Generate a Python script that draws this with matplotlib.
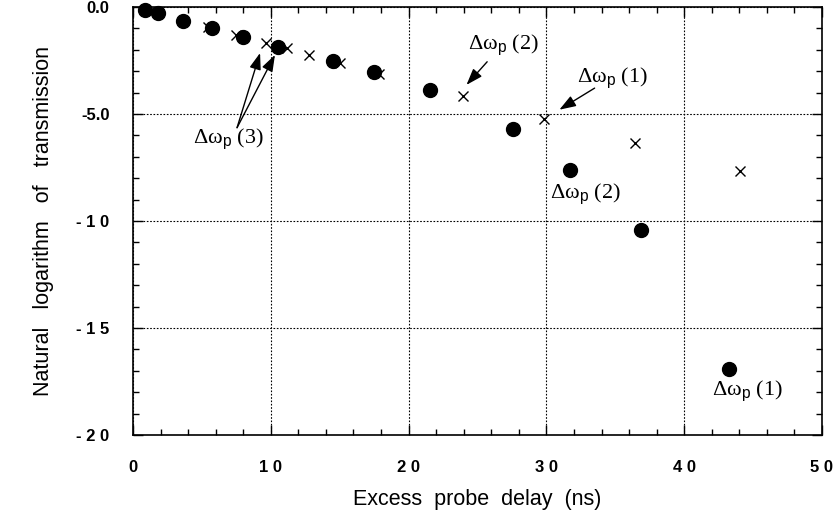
import matplotlib
matplotlib.use("Agg")
import matplotlib.pyplot as plt
from matplotlib.ticker import MultipleLocator, FixedLocator, FixedFormatter

plt.rcParams['font.family'] = ['Liberation Sans', 'DejaVu Sans']
plt.rcParams['mathtext.fontset'] = 'custom'
plt.rcParams['mathtext.rm'] = 'Liberation Serif'
plt.rcParams['mathtext.it'] = 'Liberation Serif:italic'
plt.rcParams['mathtext.sf'] = 'Liberation Sans'

# filled circles
circ_x = [0.87, 1.79, 3.61, 5.70, 7.96, 10.54, 14.49, 17.49, 21.55, 27.6, 31.71, 36.84, 43.27]
circ_y = [-0.14, -0.29, -0.64, -0.99, -1.41, -1.85, -2.52, -3.02, -3.87, -5.69, -7.60, -10.40, -16.90]

# crosses
cross_x = [5.46, 7.47, 9.63, 11.15, 12.79, 15.02, 17.87, 23.97, 29.83, 36.43, 44.05]
cross_y = [-0.92, -1.31, -1.66, -1.93, -2.24, -2.63, -3.12, -4.18, -5.22, -6.36, -7.68]

xticks = [0, 10, 20, 30, 40, 50]
xtick_labels = ["0", "1 0", "2 0", "3 0", "4 0", "5 0"]
yticks = [0, -5, -10, -15, -20]
ytick_labels = ["0.0", "-5.0", "- 1 0", "- 1 5", "- 2 0"]

fig = plt.figure(figsize=(8.34, 5.22), dpi=100)
ax = fig.add_axes([0.1595, 0.1667, 0.9856 - 0.1595, 0.9866 - 0.1667])

ax.plot(circ_x, circ_y, 'o', color='black', markersize=10, zorder=3, clip_on=False)
ax.plot(cross_x, cross_y, 'x', color='black', markersize=7.5, markeredgewidth=1.0, zorder=3, clip_on=False)

ax.set_xlim(0, 50)
ax.set_ylim(-20, 0)
ax.xaxis.set_major_locator(FixedLocator(xticks))
ax.xaxis.set_major_formatter(FixedFormatter(xtick_labels))
ax.yaxis.set_major_locator(FixedLocator(yticks))
ax.yaxis.set_major_formatter(FixedFormatter(ytick_labels))
ax.xaxis.set_minor_locator(MultipleLocator(2))
ax.yaxis.set_minor_locator(MultipleLocator(1))
ax.tick_params(which='both', direction='in', top=True, right=True, width=1.0)
ax.tick_params(which='major', length=7)
ax.tick_params(which='minor', length=4)
ax.tick_params(axis='x', which='major', pad=18, labelsize=12)
ax.tick_params(axis='y', which='major', pad=17, labelsize=12)
for lab in ax.get_xticklabels() + ax.get_yticklabels():
    lab.set_fontweight('bold')
for s in ax.spines.values():
    s.set_linewidth(1.2)

ax.grid(True, which='major', linestyle=(0, (1.5, 1.5)), color='black', linewidth=0.8)

ax.set_xlabel("Excess  probe  delay  (ns)", fontsize=15.5, labelpad=10)
ax.set_ylabel("Natural   logarithm   of   transmission", fontsize=15.5, labelpad=16)

lbl = r'$\mathrm{\Delta\omega}_{\mathsf{p}}$'
tkw = dict(fontsize=16, family='Liberation Serif', ha='center', va='center')
arrow_kw = dict(arrowstyle='-|>,head_length=1.0,head_width=0.35', color='black', lw=1.0, shrinkA=0, shrinkB=0)

# delta omega (3): two arrows
ax.text(6.9, -6.15, lbl + ' (3)', **tkw)
ax.annotate('', xy=(9.22, -2.15), xytext=(7.55, -5.64), arrowprops=arrow_kw)
ax.annotate('', xy=(10.3, -2.24), xytext=(7.55, -5.64), arrowprops=arrow_kw)

# upper delta omega (2)
ax.text(26.9, -1.75, lbl + ' (2)', **tkw)
ax.annotate('', xy=(24.2, -3.64), xytext=(25.7, -2.56), arrowprops=arrow_kw)

# upper delta omega (1)
ax.text(34.8, -3.3, lbl + ' (1)', **tkw)
ax.annotate('', xy=(30.94, -4.80), xytext=(33.5, -3.79), arrowprops=arrow_kw)

# lower labels
ax.text(32.8, -8.72, lbl + ' (2)', **tkw)
ax.text(44.56, -17.95, lbl + ' (1)', **tkw)

fig.savefig("out.png", dpi=100)
